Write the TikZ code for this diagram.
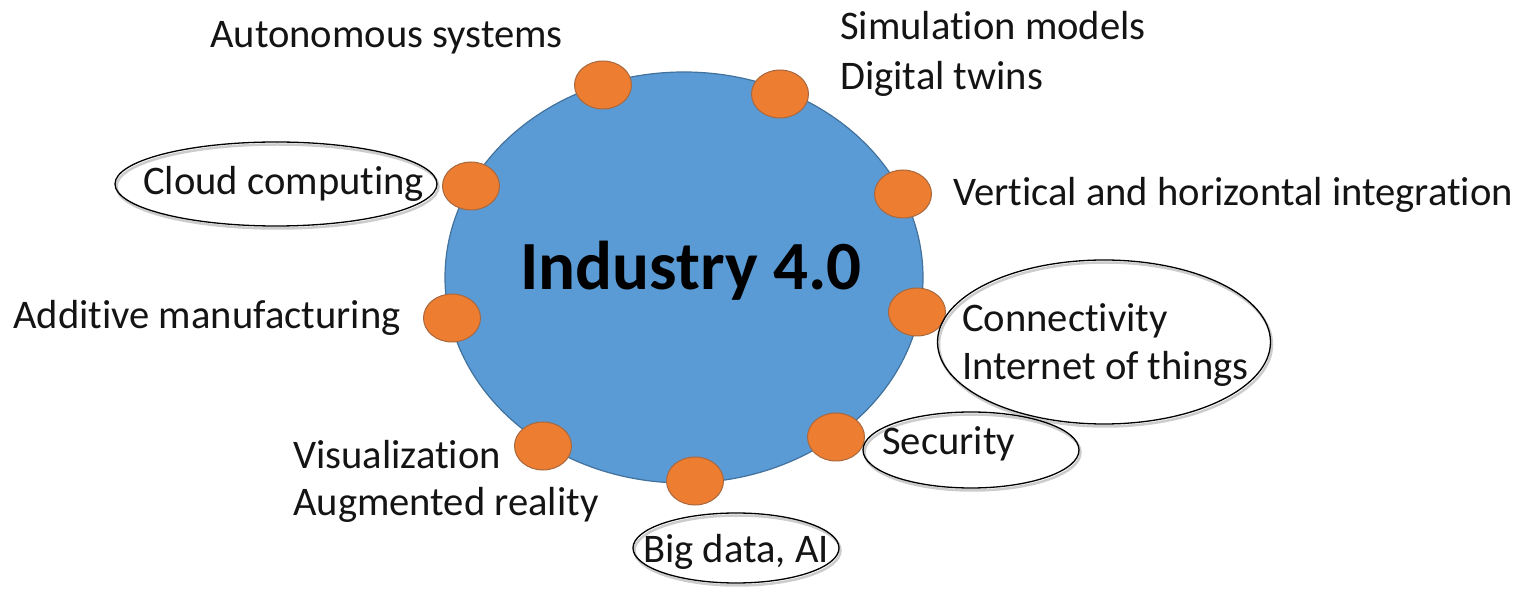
\documentclass[tikz,border=0pt]{standalone}
\usepackage{fontspec}
\setmainfont{Carlito}[Ligatures=NoCommon]
\usetikzlibrary{shapes.geometric}
\definecolor{hubblue}{HTML}{5B9BD5}
\definecolor{hubedge}{HTML}{41719C}
\definecolor{dotorange}{HTML}{ED7D31}
\definecolor{dotedge}{HTML}{A8683F}
\begin{document}
\begin{tikzpicture}[x=1pt,y=-1pt,
  hub/.style={ellipse, fill=hubblue, draw=hubedge, line width=1.2pt,
    minimum width=478pt, minimum height=411pt, inner sep=0pt},
  dot/.style={ellipse, fill=dotorange, draw=dotedge, line width=1pt,
    minimum width=57pt, minimum height=48pt, inner sep=0pt},
  ring/.style={ellipse, draw=black, line width=1.3pt, inner sep=0pt,
    preaction={draw=black!20, line width=2.5pt,
      transform canvas={xshift=1.5pt,yshift=-2.5pt}}},
  lbl/.style={anchor=base west, inner sep=0pt,
    font=\fontsize{40.6}{50}\selectfont, text=black!92}
]
\useasboundingbox (0,0) rectangle (1532,593);

% central hub
\node[hub] (hub) at (684,277.5) {};
\node[anchor=base, inner sep=0pt, text=black,
  font=\bfseries\fontsize{69}{80}\selectfont] (title) at (691,290) {Industry 4.0};

% orange markers around the rim
\node[dot] (dAuto) at (603,85) {};
\node[dot] (dSim)  at (780,94) {};
\node[dot] (dCloud) at (471,186) {};
\node[dot] (dVert) at (903,194) {};
\node[dot] (dAdd)  at (452,318) {};
\node[dot] (dConn) at (917,312) {};
\node[dot] (dVis)  at (543,446) {};
\node[dot] (dSec)  at (836,437) {};
\node[dot] (dBig)  at (695,481) {};

% outlined labels
\node[ring, minimum width=322pt, minimum height=84pt] (rCloud) at (276,184) {};
\node[ring, minimum width=333pt, minimum height=164pt] (rConn) at (1104,342) {};
\node[ring, minimum width=216pt, minimum height=76pt] (rSec) at (971,450) {};
\node[ring, minimum width=206pt, minimum height=70pt] (rBig) at (736,548) {};

% label texts
\node[lbl] (tAuto) at (210,48) {Autonomous systems};
\node[lbl] (tSim1) at (840,40) {Simulation models};
\node[lbl] (tSim2) at (840,90) {Digital twins};
\node[lbl] (tVert) at (953,206) {Vertical and horizontal integration};
\node[lbl] (tCloud) at (143,195) {Cloud computing};
\node[lbl] (tAdd) at (13,329) {Additive manufacturing};
\node[lbl] (tConn1) at (962,332) {Connectivity};
\node[lbl] (tConn2) at (962,380) {Internet of things};
\node[lbl] (tSec) at (882,455) {Security};
\node[lbl] (tVis1) at (293,468) {Visualization};
\node[lbl] (tVis2) at (293,515) {Augmented reality};
\node[lbl] (tBig) at (643,562) {Big data, AI};
\end{tikzpicture}
\end{document}
